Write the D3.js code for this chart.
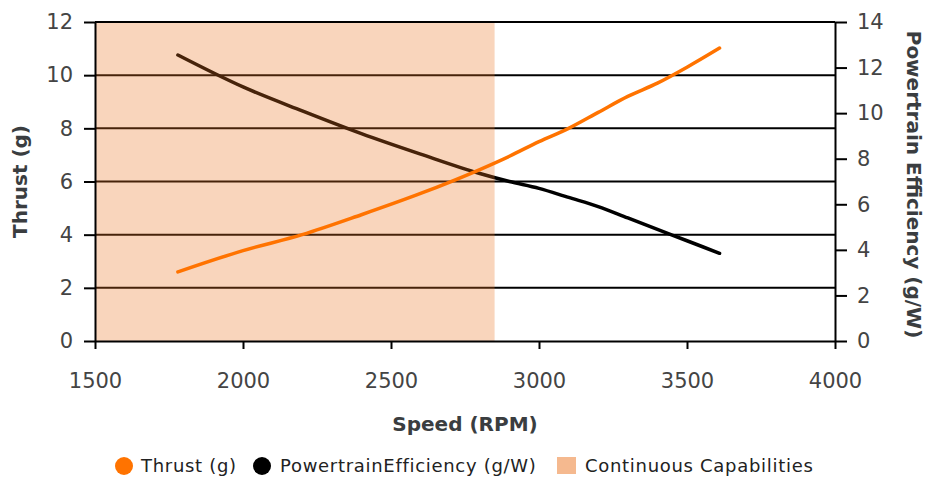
<!DOCTYPE html>
<html><head><meta charset="utf-8">
<script src="https://cdn.jsdelivr.net/npm/d3@7"></script>
<style>body{margin:0;background:#fff}svg{display:block}text{font-family:"DejaVu Sans",sans-serif}</style>
</head><body>
<svg id="c" width="927" height="477"></svg>
<script>
const rpm        = [1780, 2000, 2200, 2400, 2600, 2800, 2900, 3000, 3100, 3200, 3300, 3400, 3500, 3610];
const thrust     = [2.6, 3.4, 4.0, 4.75, 5.55, 6.45, 6.95, 7.5, 8.0, 8.6, 9.2, 9.7, 10.3, 11.02];
const efficiency = [12.55, 11.15, 10.1, 9.1, 8.2, 7.35, 7.0, 6.7, 6.3, 5.9, 5.4, 4.9, 4.4, 3.85];
const continuousRange = [1500, 2850];
const xTicks = [1500, 2000, 2500, 3000, 3500, 4000];
const yLeftTicks = [0, 2, 4, 6, 8, 10, 12];
const yRightTicks = [0, 2, 4, 6, 8, 10, 12, 14];
const legendItems = ["Thrust (g)", "PowertrainEfficiency (g/W)", "Continuous Capabilities"];

const svg = d3.select("#c");
const L = 95, R = 835, T = 22, B = 341;
const x = d3.scaleLinear().domain([1500, 4000]).range([L, R]);
const yL = d3.scaleLinear().domain([0, 12]).range([B, T]);
const yR = d3.scaleLinear().domain([0, 14]).range([B, T]);
const txt = "#3a3d40";

// gridlines
svg.append("g").selectAll("line").data(yLeftTicks.filter(d => d > 0)).join("line")
  .attr("x1", L).attr("x2", R).attr("y1", d => yL(d)).attr("y2", d => yL(d))
  .attr("stroke", "#000").attr("stroke-width", 2);

const pts = rpm.map((r, i) => ({r, t: thrust[i], e: efficiency[i]}));
// efficiency line
svg.append("path").datum(pts)
  .attr("d", d3.line().x(d => x(d.r)).y(d => yR(d.e)).curve(d3.curveMonotoneX))
  .attr("fill", "none").attr("stroke", "#000").attr("stroke-width", 3.5).attr("stroke-linecap", "round");

// shaded region
svg.append("rect").attr("x", x(continuousRange[0])).attr("y", T)
  .attr("width", x(continuousRange[1]) - x(continuousRange[0])).attr("height", B - T)
  .attr("fill", "rgb(235,115,32)").attr("fill-opacity", 0.3);

// thrust line
svg.append("path").datum(pts)
  .attr("d", d3.line().x(d => x(d.r)).y(d => yL(d.t)).curve(d3.curveMonotoneX))
  .attr("fill", "none").attr("stroke", "#ff7300").attr("stroke-width", 3.5).attr("stroke-linecap", "round");

function styleAxis(g) {
  g.select(".domain").attr("stroke", "#000").attr("stroke-width", 2);
  g.selectAll(".tick line").attr("stroke", "#000").attr("stroke-width", 2);
  g.selectAll(".tick text").attr("fill", "#444").style("font-size", "21px").style("font-family", "'DejaVu Sans', sans-serif");
}
svg.append("g").attr("transform", `translate(0,${B})`)
  .call(d3.axisBottom(x).tickValues(xTicks).tickSize(8).tickSizeOuter(0).tickPadding(24).tickFormat(d3.format("d")))
  .call(styleAxis);
svg.append("g").attr("transform", `translate(${L},0)`)
  .call(d3.axisLeft(yL).tickValues(yLeftTicks).tickSize(11).tickSizeOuter(0).tickPadding(11))
  .call(styleAxis);
svg.append("g").attr("transform", `translate(${R},0)`)
  .call(d3.axisRight(yR).tickValues(yRightTicks).tickSize(12).tickSizeOuter(0).tickPadding(10))
  .call(styleAxis);
// top border line
svg.append("line").attr("x1", L).attr("x2", R).attr("y1", T).attr("y2", T).attr("stroke", "#000").attr("stroke-width", 2);

// titles
svg.append("text").attr("x", (L + R) / 2).attr("y", 431).attr("text-anchor", "middle")
  .attr("fill", txt).style("font-size", "20px").style("font-weight", "bold").text("Speed (RPM)");
svg.append("text").attr("transform", `translate(27,${(T + B) / 2}) rotate(-90)`).attr("text-anchor", "middle")
  .attr("fill", txt).style("font-size", "20px").style("font-weight", "bold").text("Thrust (g)");
svg.append("text").attr("transform", `translate(907,${(T + B) / 2 + 3}) rotate(90)`).attr("text-anchor", "middle")
  .attr("fill", txt).style("font-size", "20px").style("font-weight", "bold").text("Powertrain Efficiency (g/W)");

// legend
const lg = svg.append("g").style("font-size", "18px").style("letter-spacing", "0.7px");
lg.append("circle").attr("cx", 124).attr("cy", 466).attr("r", 9).attr("fill", "#ff7300");
lg.append("circle").attr("cx", 262).attr("cy", 466).attr("r", 9).attr("fill", "#000");
lg.append("rect").attr("x", 557).attr("y", 457).attr("width", 19).attr("height", 17)
  .attr("fill", "rgb(235,115,32)").attr("fill-opacity", 0.5);
const tx = [141, 280, 585];
legendItems.forEach((t, i) => {
  lg.append("text").attr("x", tx[i]).attr("y", 472).attr("fill", "#222").text(t);
});
</script>
</body></html>
